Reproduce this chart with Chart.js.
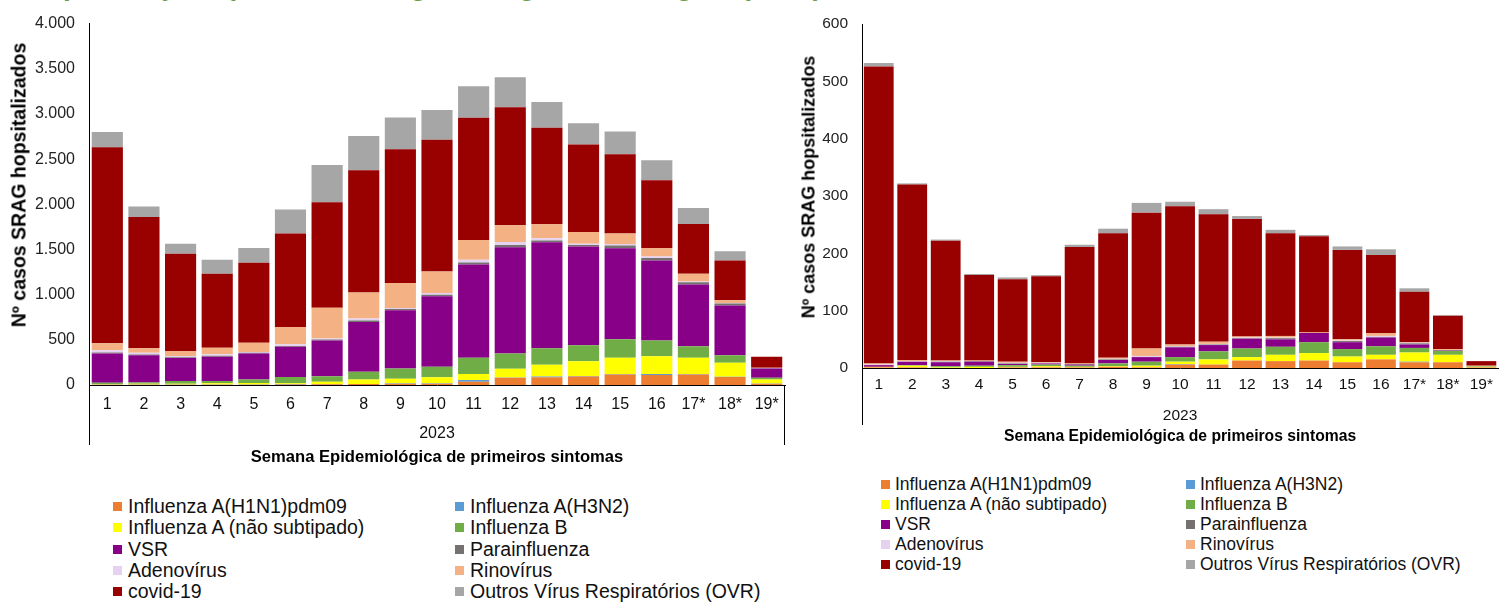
<!DOCTYPE html>
<html><head><meta charset="utf-8">
<script src="https://cdn.jsdelivr.net/npm/chart.js@4.4.0/dist/chart.umd.min.js"></script>
<style>
body{margin:0;background:#fff;width:1500px;height:602px;overflow:hidden;position:relative;font-family:"Liberation Sans",Arial,sans-serif;}
#title{position:absolute;left:10px;top:-30px;font-weight:bold;font-size:28px;color:#6a9f4b;white-space:nowrap;}
#cL{position:absolute;left:0;top:0;}
#cR{position:absolute;left:800px;top:0;}
.legend{position:absolute;display:grid;color:#111;}
.item{display:flex;align-items:center;white-space:nowrap;}
.sw{display:inline-block;flex:none;}
.ytitle{position:absolute;font-weight:bold;color:#000;white-space:nowrap;transform:translate(-50%,-50%) rotate(-90deg);}
</style>
</head><body>
<div id="title">Hospitalizações por SRAG, segundo agente etiológico (2023)</div>
<canvas id="cL" width="800" height="470"></canvas>
<canvas id="cR" width="700" height="470"></canvas>
<div id="ytL" class="ytitle" style="left:19px;top:185px;font-size:19.5px;"></div>
<div id="ytR" class="ytitle" style="left:809px;top:187px;font-size:18px;"></div>
<div id="legL" class="legend"></div>
<div id="legR" class="legend"></div>
<script>
const weeks = ["1","2","3","4","5","6","7","8","9","10","11","12","13","14","15","16","17*","18*","19*"];
const seriesNames = ["Influenza A(H1N1)pdm09","Influenza A(H3N2)","Influenza A (não subtipado)","Influenza B","VSR","Parainfluenza","Adenovírus","Rinovírus","covid-19","Outros Vírus Respiratórios (OVR)"];
const seriesColors = ["#ED7D31","#5B9BD5","#FFFF00","#70AD47","#880088","#767171","#E4D2F0","#F4B183","#990000","#A6A6A6"];
const yearLabel = "2023";
const xTitle = "Semana Epidemiológica de primeiros sintomas";
const yTitle = "Nº casos SRAG hopsitalizados";

// Left chart
const h1n1L  = [3,3,3,3,4,5,8,10,15,15,37,81,85,95,115,110,115,88,15];
const h3n2L  = [2,2,2,2,2,5,3,2,3,3,18,3,10,4,6,11,6,4,2];
const fluAL  = [5,8,10,15,15,10,25,50,52,67,66,96,130,165,180,198,180,154,45];
const fluBL  = [15,15,30,25,40,68,60,85,113,117,180,169,183,177,206,173,129,84,19];
const vsrL   = [325,300,253,268,287,334,396,551,643,780,1032,1175,1172,1091,1006,885,683,551,102];
const paraL  = [10,10,8,10,8,10,12,17,16,18,22,25,20,18,30,30,25,20,3];
const adenoL = [25,20,15,16,10,20,10,20,10,18,30,35,25,12,18,14,8,6,2];
const rinoL  = [77,50,55,73,103,191,342,290,276,239,220,184,155,132,117,92,85,30,4];
const covidL = [2170,1451,1076,820,885,1035,1168,1352,1480,1458,1352,1307,1066,969,875,754,550,440,120];
const ovrL   = [169,118,110,154,162,265,411,378,352,330,349,331,286,235,253,220,177,103,0];

// Right chart
const h1n1R  = [1,1,0,0,1,1,1,2,1,6,6,13,12,13,10,15,10,10,1];
const h3n2R  = [0,0,0,0,0,0,0,0,0,1,0,0,0,0,0,0,1,0,0];
const fluAR  = [1,3,1,2,1,2,1,1,3,4,9,6,11,13,10,8,16,13,1];
const fluBR  = [0,1,2,2,3,3,2,5,7,8,14,15,14,19,13,15,8,7,1];
const vsrR   = [3,6,7,7,2,2,2,6,8,17,11,17,13,16,12,15,6,1,0];
const paraR  = [0,0,1,1,1,0,1,1,0,1,1,1,2,0,2,1,2,0,0];
const adenoR = [1,1,1,0,1,1,0,1,2,1,1,1,1,0,1,2,1,0,0];
const rinoR  = [2,2,1,1,2,1,1,2,13,3,4,2,3,1,2,5,1,2,1];
const covidR = [518,306,209,149,144,150,203,217,237,241,222,205,179,168,156,136,88,58,8];
const ovrR   = [6,2,2,2,3,2,4,8,17,8,9,5,6,2,6,10,6,1,0];

const leftSeries  = [h1n1L,h3n2L,fluAL,fluBL,vsrL,paraL,adenoL,rinoL,covidL,ovrL];
const rightSeries = [h1n1R,h3n2R,fluAR,fluBR,vsrR,paraR,adenoR,rinoR,covidR,ovrR];

const FONT = '"Liberation Sans", Arial, sans-serif';

const bracket = {
  id:'bracket',
  afterDraw(chart, args, o){
    const {ctx, chartArea:a} = chart;
    ctx.save();
    ctx.strokeStyle = '#000'; ctx.lineWidth = 1;
    ctx.beginPath();
    ctx.moveTo(Math.round(a.left)+0.5, a.bottom); ctx.lineTo(Math.round(a.left)+0.5, a.bottom + o.depth);
    if (o.right) { ctx.moveTo(Math.round(a.right)-0.5, a.bottom); ctx.lineTo(Math.round(a.right)-0.5, a.bottom + o.depth); }
    ctx.stroke();
    ctx.restore();
  }
};

function makeChart(id, series, cfg){
  const datasets = series.map((d,i)=>({
    label: seriesNames[i], data: d, backgroundColor: seriesColors[i],
    borderWidth: 0, barPercentage: cfg.barPct, categoryPercentage: 1
  }));
  return new Chart(document.getElementById(id), {
    type:'bar',
    data:{labels:weeks, datasets},
    plugins:[bracket],
    options:{
      responsive:false, animation:false,
      layout:{padding:{top:cfg.top, right:cfg.right, left:0, bottom:0}},
      plugins:{
        legend:{display:false}, tooltip:{enabled:false}, title:{display:false},
        bracket:{depth:cfg.depth, right:cfg.bracketRight}
      },
      scales:{
        x:{stacked:true, weight:0,
          grid:{display:false, drawTicks:false},
          border:{display:true, color:'#000', width:1},
          ticks:{color:'#111', font:{family:FONT, size:cfg.xTickSize}, padding:cfg.xTickPad, maxRotation:0, autoSkip:false},
          title:{display:true, text:yearLabel, color:'#111', font:{family:FONT, size:cfg.xTickSize}, padding:{top:0,bottom:cfg.yearPad}},
          afterFit(s){ s.height = cfg.xHeight; }
        },
        x2:{type:'category', position:'bottom', weight:1,
          grid:{display:false, drawTicks:false},
          border:{display:false},
          ticks:{display:false},
          title:{display:true, text:xTitle, color:'#000', font:{family:FONT, size:cfg.xTitleSize, weight:'bold'}, padding:{top:0,bottom:cfg.titleBottom}},
          afterFit(s){ s.height = cfg.x2Height; }
        },
        y:{stacked:true, min:0, max:cfg.max,
          grid:{display:false, drawTicks:false},
          border:{display:true, color:'#000', width:1},
          ticks:{stepSize:cfg.step, color:'#222', font:{family:FONT, size:cfg.yTickSize}, padding:14,
            callback:(v)=>v.toLocaleString('pt-BR')},
          title:{display:false, text:yTitle},
          afterFit(s){ s.width = cfg.yWidth; }
        }
      }
    }
  });
}

makeChart('cL', leftSeries, {barPct:0.85, top:22, right:15, max:4000, step:500, yWidth:89,
  xHeight:58, x2Height:27, xTickPad:10, yearPad:0, titleBottom:3, xTitleSize:16.6, xTickSize:16, yTickSize:16,
  depth:60, bracketRight:true});
makeChart('cR', rightSeries, {barPct:0.89, top:24, right:0, max:600, step:100, yWidth:62,
  xHeight:57, x2Height:45, xTickPad:7, yearPad:0, titleBottom:23.5, xTitleSize:15.7, xTickSize:15.5, yTickSize:15.5,
  depth:57, bracketRight:false});

document.getElementById('ytL').textContent = yTitle;
document.getElementById('ytR').textContent = yTitle;

function buildLegend(id, left, top, cols, rowH, fontSize, sq, gap){
  const el = document.getElementById(id);
  el.style.left = left+'px'; el.style.top = top+'px';
  el.style.gridTemplateColumns = cols.map(c=>c+'px').join(' ');
  el.style.gridAutoRows = rowH+'px';
  el.style.fontSize = fontSize+'px';
  seriesNames.forEach((n,i)=>{
    const it = document.createElement('div'); it.className='item';
    const s = document.createElement('span'); s.className='sw';
    s.style.width=sq+'px'; s.style.height=sq+'px'; s.style.background=seriesColors[i]; s.style.marginRight=gap+'px';
    const t = document.createElement('span'); t.textContent = n;
    it.appendChild(s); it.appendChild(t); el.appendChild(it);
  });
}
buildLegend('legL', 113, 496, [342, 320], 21.3, 19.5, 9, 6);
buildLegend('legR', 881, 475, [305, 320], 19.8, 17.5, 9, 5);
</script>
</body></html>
